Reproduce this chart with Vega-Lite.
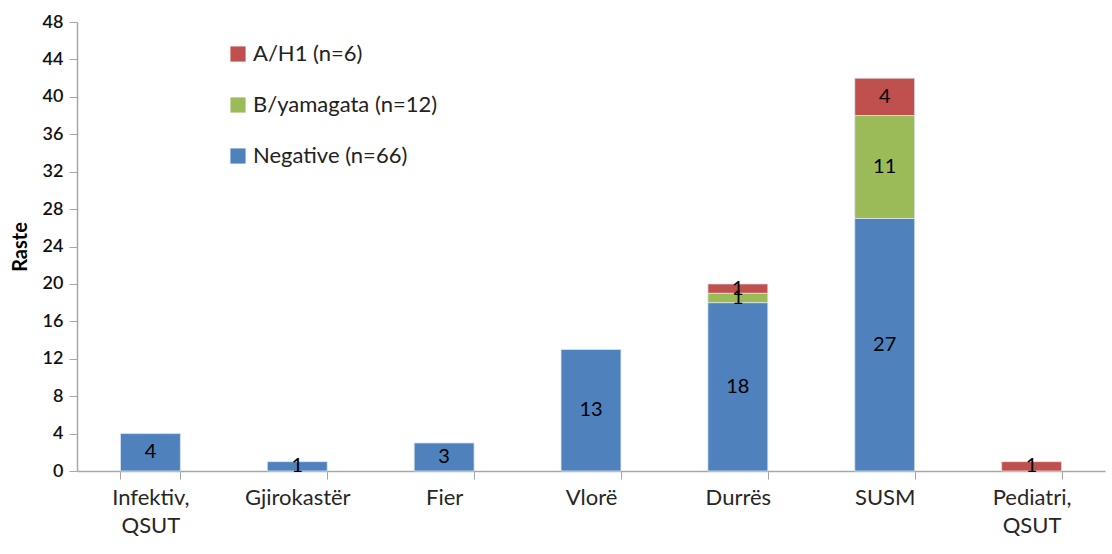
{
  "$schema": "https://vega.github.io/schema/vega-lite/v6.json",
  "width": 1028,
  "height": 449,
  "autosize": {"type": "none"},
  "padding": {"left": 77, "top": 22, "right": 7, "bottom": 83},
  "background": "white",
  "config": {"view": {"stroke": null}, "font": "Lato"},
  "data": {
    "values": [
      {"site": "Infektiv, QSUT", "series": "Negative (n=66)", "count": 4},
      {"site": "Gjirokastër", "series": "Negative (n=66)", "count": 1},
      {"site": "Fier", "series": "Negative (n=66)", "count": 3},
      {"site": "Vlorë", "series": "Negative (n=66)", "count": 13},
      {"site": "Durrës", "series": "Negative (n=66)", "count": 18},
      {"site": "Durrës", "series": "B/yamagata (n=12)", "count": 1},
      {"site": "Durrës", "series": "A/H1 (n=6)", "count": 1},
      {"site": "SUSM", "series": "Negative (n=66)", "count": 27},
      {"site": "SUSM", "series": "B/yamagata (n=12)", "count": 11},
      {"site": "SUSM", "series": "A/H1 (n=6)", "count": 4},
      {"site": "Pediatri, QSUT", "series": "A/H1 (n=6)", "count": 1}
    ]
  },
  "transform": [
    {"calculate": "datum.series == 'Negative (n=66)' ? 0 : datum.series == 'B/yamagata (n=12)' ? 1 : 2", "as": "ord"},
    {"stack": "count", "groupby": ["site"], "sort": [{"field": "ord", "order": "ascending"}], "as": ["y0", "y1"]},
    {"calculate": "(datum.y0 + datum.y1) / 2", "as": "ymid"}
  ],
  "encoding": {
    "x": {
      "field": "site",
      "type": "nominal",
      "sort": ["Infektiv, QSUT", "Gjirokastër", "Fier", "Vlorë", "Durrës", "SUSM", "Pediatri, QSUT"],
      "scale": {"paddingInner": 0.592, "paddingOuter": 0.296},
      "axis": {
        "title": null,
        "labelAngle": 0,
        "labelFontSize": 22,
        "labelColor": "#262626",
        "labelPadding": 8,
        "labelLineHeight": 28,
        "labelLimit": 300,
        "labelOverlap": false,
        "labelExpr": "datum.value == 'Infektiv, QSUT' ? ['Infektiv,', 'QSUT'] : datum.value == 'Pediatri, QSUT' ? ['Pediatri,', 'QSUT'] : datum.value",
        "domainColor": "#a6a6a6",
        "tickColor": "#a6a6a6",
        "tickBand": "extent",
        "tickSize": 8,
        "domainWidth": 1.5
      }
    }
  },
  "resolve": {"scale": {"y": "shared"}},
  "layer": [
    {
      "mark": {"type": "bar", "stroke": "#dce6f2", "strokeWidth": 0.8},
      "encoding": {
        "y": {
          "field": "y0",
          "type": "quantitative",
          "scale": {"domain": [0, 48], "nice": false},
          "axis": {
            "title": "Raste",
            "titleFontSize": 20,
            "titleFontWeight": "bold",
            "titleColor": "#000000",
            "titlePadding": 12,
            "values": [0, 4, 8, 12, 16, 20, 24, 28, 32, 36, 40, 44, 48],
            "labelOverlap": false,
            "labelFontSize": 18,
            "labelFontWeight": 600,
            "labelColor": "#111111",
            "labelPadding": 6,
            "grid": false,
            "domainColor": "#a6a6a6",
            "domainWidth": 1.5,
            "tickColor": "#a6a6a6",
            "tickSize": 8
          }
        },
        "y2": {"field": "y1"},
        "color": {
          "field": "series",
          "type": "nominal",
          "scale": {
            "domain": ["A/H1 (n=6)", "B/yamagata (n=12)", "Negative (n=66)"],
            "range": ["#c0504d", "#9bbb59", "#4f81bd"]
          },
          "legend": {
            "title": null,
            "orient": "none",
            "legendX": 150,
            "legendY": 21,
            "symbolType": "square",
            "symbolSize": 230,
            "symbolStrokeWidth": 0,
            "labelFontSize": 22,
            "labelLimit": 400,
            "labelColor": "#222222",
            "labelOffset": 4,
            "rowPadding": 29
          }
        }
      }
    },
    {
      "mark": {"type": "text", "fontSize": 20, "color": "#000000", "baseline": "middle"},
      "encoding": {
        "y": {
          "field": "ymid",
          "type": "quantitative",
          "scale": {"domain": [0, 48], "nice": false},
          "axis": {
            "title": "Raste",
            "titleFontSize": 20,
            "titleFontWeight": "bold",
            "titleColor": "#000000",
            "titlePadding": 12,
            "values": [0, 4, 8, 12, 16, 20, 24, 28, 32, 36, 40, 44, 48],
            "labelOverlap": false,
            "labelFontSize": 18,
            "labelFontWeight": 600,
            "labelColor": "#111111",
            "labelPadding": 6,
            "grid": false,
            "domainColor": "#a6a6a6",
            "domainWidth": 1.5,
            "tickColor": "#a6a6a6",
            "tickSize": 8
          }
        },
        "text": {"field": "count", "type": "quantitative"}
      }
    }
  ]
}
